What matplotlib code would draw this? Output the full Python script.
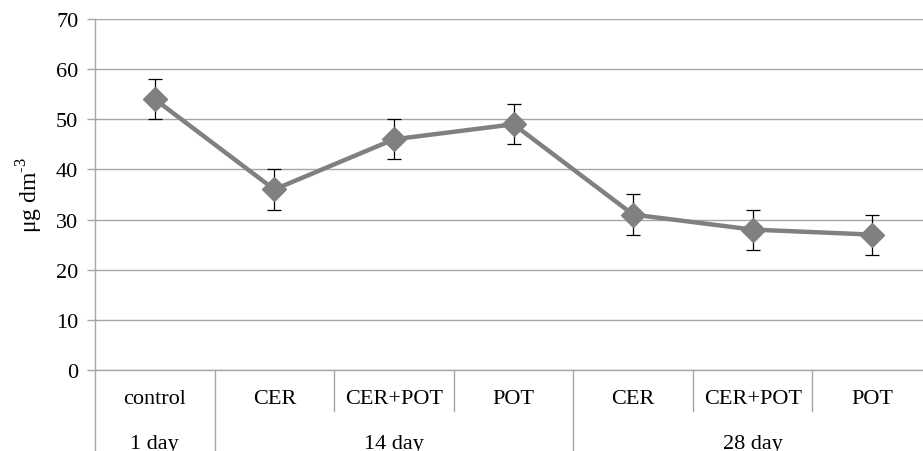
import matplotlib.pyplot as plt
import matplotlib.transforms as mtransforms

# data
treatments = ['control', 'CER', 'CER+POT', 'POT', 'CER', 'CER+POT', 'POT']
groups = ['1 day', '14 day', '28 day']
group_sizes = [1, 3, 3]
values = [54, 36, 46, 49, 31, 28, 27]
errors = [4, 4, 4, 4, 4, 4, 4]

plt.rcParams['font.family'] = ['Liberation Serif', 'DejaVu Serif']
plt.rcParams['mathtext.fontset'] = 'custom'
plt.rcParams['mathtext.rm'] = 'Liberation Serif'

fig = plt.figure(figsize=(9.23, 4.52), dpi=100)
ax = fig.add_axes([0.1029, 0.1792, 0.9069, 0.7766])

grid_c = '#a6a6a6'
x = list(range(len(values)))
ax.errorbar(x, values, yerr=errors, color='#808080', lw=3.2, marker='D', ms=12,
            ecolor='black', elinewidth=0.9, capsize=4.7, capthick=0.9, zorder=3)

ax.set_xlim(-0.5, len(values) - 0.5)
ax.set_ylim(0, 70)
ax.set_yticks(range(0, 71, 10))
ax.yaxis.grid(True, color=grid_c, lw=1)
ax.set_axisbelow(True)
ax.set_xticks([])
ax.tick_params(axis='y', length=6, width=1, color=grid_c, labelsize=16, pad=6)
for s in ['top', 'right']:
    ax.spines[s].set_visible(False)
for s in ['left', 'bottom']:
    ax.spines[s].set_color(grid_c)
    ax.spines[s].set_linewidth(1)

ax.set_ylabel(r'μg dm$^{\mathrm{\text{-}3}}$', fontsize=17, labelpad=8)

trans = mtransforms.blended_transform_factory(ax.transData, ax.transAxes)
for i, t in enumerate(treatments):
    ax.text(i, -0.082, t, transform=trans, ha='center', va='center', fontsize=16)

# dividers and group labels
start = 0
ax.plot([-0.5, -0.5], [0, -0.235], transform=trans, color=grid_c, lw=1, clip_on=False)
for g, n in zip(groups, group_sizes):
    end = start + n
    ax.text(start + (n - 1) / 2, -0.208, g, transform=trans, ha='center', va='center', fontsize=16)
    for k in range(start + 1, end):
        ax.plot([k - 0.5, k - 0.5], [0, -0.118], transform=trans, color=grid_c, lw=1, clip_on=False)
    ax.plot([end - 0.5, end - 0.5], [0, -0.235], transform=trans, color=grid_c, lw=1, clip_on=False)
    start = end

plt.savefig('out.png', dpi=100)
